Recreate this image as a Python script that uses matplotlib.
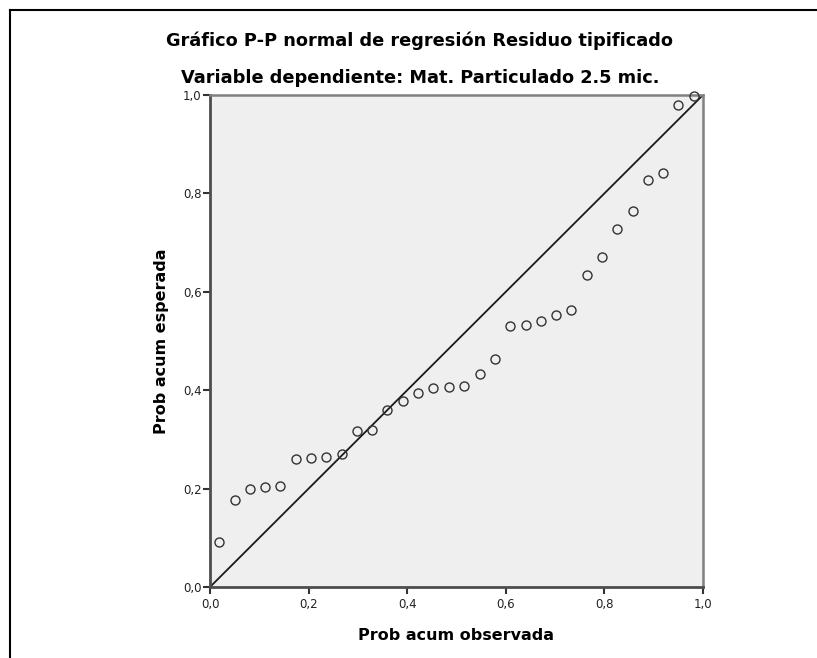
import matplotlib
matplotlib.use("Agg")
from matplotlib import pyplot as plt
from matplotlib.lines import Line2D

# observed cumulative probability (x) and expected cumulative probability (y)
obs_prob = [0.019, 0.050, 0.081, 0.112, 0.143, 0.174, 0.205, 0.236, 0.267, 0.298,
            0.329, 0.360, 0.391, 0.422, 0.453, 0.484, 0.516, 0.547, 0.578, 0.609,
            0.640, 0.671, 0.702, 0.733, 0.764, 0.795, 0.826, 0.857, 0.888, 0.919,
            0.950, 0.981]
exp_prob = [0.091, 0.177, 0.200, 0.203, 0.205, 0.260, 0.263, 0.265, 0.271, 0.317,
            0.319, 0.360, 0.379, 0.394, 0.405, 0.407, 0.408, 0.433, 0.463, 0.530,
            0.532, 0.540, 0.553, 0.564, 0.635, 0.671, 0.728, 0.765, 0.827, 0.842,
            0.980, 0.998]
ticks = [0.0, 0.2, 0.4, 0.6, 0.8, 1.0]
tick_labels = ["0,0", "0,2", "0,4", "0,6", "0,8", "1,0"]

title1 = "Gráfico P-P normal de regresión Residuo tipificado"
title2 = "Variable dependiente: Mat. Particulado 2.5 mic."

W, H = 817, 658
fig = plt.figure(figsize=(W / 100, H / 100), dpi=100)
fig.patch.set_facecolor("white")

# axes box in pixels: x 210..703, y 95..587
ax = fig.add_axes([210 / W, 1 - 587 / H, 493 / W, 492 / H])
ax.set_facecolor("#efefef")
ax.set_xlim(0, 1)
ax.set_ylim(0, 1)

ax.plot([0, 1], [0, 1], color="#1a1a1a", lw=1.3, zorder=2)
ax.plot(obs_prob, exp_prob, "o", ms=6.5, mfc="none", mec="#333333", mew=1.0,
        zorder=3, clip_on=False)

ax.set_xticks(ticks)
ax.set_yticks(ticks)
ax.set_xticklabels(tick_labels)
ax.set_yticklabels(tick_labels)
ax.tick_params(direction="out", length=5, width=1.5, color="#333333",
               labelsize=8.5, labelcolor="#222222")
ax.tick_params(axis="x", pad=3)
ax.tick_params(axis="y", pad=1)
for side in ["left", "bottom"]:
    ax.spines[side].set_color("#4d4d4d")
    ax.spines[side].set_linewidth(2)
for side in ["top", "right"]:
    ax.spines[side].set_color("#808080")
    ax.spines[side].set_linewidth(1.8)
for lab in ax.get_xticklabels() + ax.get_yticklabels():
    lab.set_family("DejaVu Sans")

ax.set_xlabel("Prob acum observada", fontsize=11.5, fontweight="bold",
              family="DejaVu Sans", labelpad=12)
ax.set_ylabel("Prob acum esperada", fontsize=11.5, fontweight="bold",
              family="DejaVu Sans", labelpad=10)

fig.text(420 / W, 1 - 46 / H, title1, ha="center", va="baseline", fontsize=12.8,
         fontweight="bold", family="DejaVu Sans")
fig.text(420 / W, 1 - 83 / H, title2, ha="center", va="baseline", fontsize=12.8,
         fontweight="bold", family="DejaVu Sans")

# outer frame (left and top edges)
fig.add_artist(Line2D([10 / W, 10 / W], [0, 1 - 10 / H], color="black", lw=1.5,
                      transform=fig.transFigure))
fig.add_artist(Line2D([10 / W, 1], [1 - 10 / H, 1 - 10 / H], color="black", lw=1.5,
                      transform=fig.transFigure))

fig.savefig("out.png", dpi=100)
